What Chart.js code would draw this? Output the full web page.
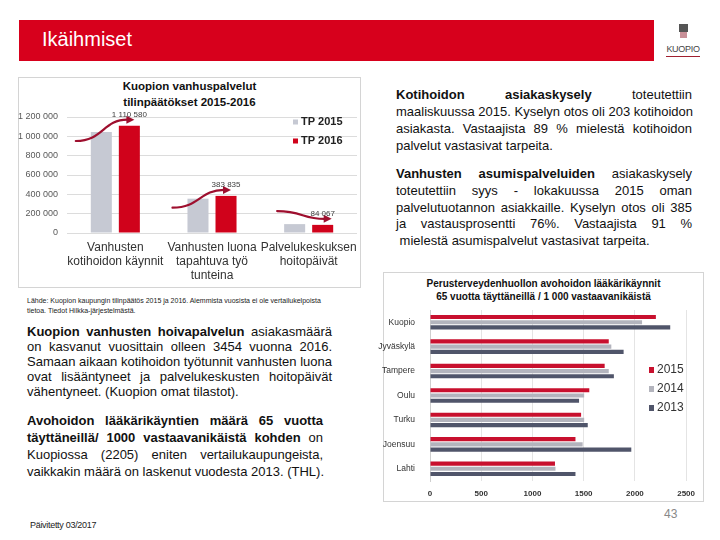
<!DOCTYPE html>
<html><head><meta charset="utf-8">
<script src="https://cdn.jsdelivr.net/npm/chart.js@4.4.1/dist/chart.umd.min.js"></script>
<style>
body{margin:0;width:720px;height:540px;position:relative;background:#fff;font-family:"Liberation Sans",Arial,sans-serif;overflow:hidden;color:#111}
.a{position:absolute}
#hdr{left:19px;top:20px;width:635px;height:41px;background:#d7001c}
#hdr span{position:absolute;left:23px;top:8px;color:#fff;font-size:20px}
.box{border:1px solid #d4d4d4;box-sizing:border-box}
.j{text-align:justify;text-align-last:justify;white-space:nowrap}
.l{text-align:left;white-space:nowrap}
.txt{font-size:13px}
</style></head>
<body>
<div id="hdr" class="a"><span>Ikäihmiset</span></div>
<!-- logo -->
<div class="a" style="left:679px;top:24px;width:9px;height:8px;background:#555"></div>
<div class="a" style="left:680px;top:32px;width:7px;height:6px;background:#c89098"></div>
<div class="a" style="left:663px;top:44px;width:40px;text-align:center;font-size:9px;color:#444;letter-spacing:-0.3px">KUOPIO</div>
<div class="a" style="left:666px;top:56px;width:34px;height:1px;background:#a02030"></div>

<div class="a box" style="left:18px;top:77px;width:343px;height:211px"></div>
<div class="a" style="left:18px;top:78px;width:343px;text-align:center;font-size:11.5px;font-weight:bold;line-height:16px;color:#111">Kuopion vanhuspalvelut<br>tilinpäätökset 2015-2016</div>
<canvas id="c1" class="a" style="left:0;top:77px"></canvas>

<div class="a" style="left:27px;top:296px;font-size:7px;line-height:10px;color:#222">Lähde: Kuopion kaupungin tilinpäätös 2015 ja 2016. Aiemmista vuosista ei ole vertailukelpoista<br>tietoa. Tiedot Hilkka-järjestelmästä.</div>

<div class="a txt" style="left:27px;top:324px;width:305px;line-height:15px">
<div class="j"><b>Kuopion vanhusten hoivapalvelun</b> asiakasmäärä</div>
<div class="j">on kasvanut vuosittain olleen 3454 vuonna 2016.</div>
<div class="j">Samaan aikaan kotihoidon työtunnit vanhusten luona</div>
<div class="j">ovat lisääntyneet ja palvelukeskusten hoitopäivät</div>
<div class="l">vähentyneet. (Kuopion omat tilastot).</div>
</div>
<div class="a txt" style="left:27px;top:412px;width:296px;line-height:17px">
<div class="j"><b>Avohoidon lääkärikäyntien määrä 65 vuotta</b></div>
<div class="j"><b>täyttäneillä/ 1000 vastaavanikäistä kohden</b> on</div>
<div class="j">Kuopiossa (2205) eniten vertailukaupungeista,</div>
<div class="l">vaikkakin määrä on laskenut vuodesta 2013. (THL).</div>
</div>

<div class="a txt" style="left:396px;top:86px;width:296px;line-height:17px">
<div class="j"><b>Kotihoidon asiakaskysely</b> toteutettiin</div>
<div class="j">maaliskuussa 2015. Kyselyn otos oli 203 kotihoidon</div>
<div class="j">asiakasta. Vastaajista 89 % mielestä kotihoidon</div>
<div class="l">palvelut vastasivat tarpeita.</div>
</div>
<div class="a txt" style="left:396px;top:166px;width:296px;line-height:16.8px">
<div class="j"><b>Vanhusten asumispalveluiden</b> asiakaskysely</div>
<div class="j">toteutettiin syys - lokakuussa 2015 oman</div>
<div class="j">palvelutuotannon asiakkaille. Kyselyn otos oli 385</div>
<div class="j">ja vastausprosentti 76%. Vastaajista 91 %</div>
<div class="l">&nbsp;mielestä asumispalvelut vastasivat tarpeita.</div>
</div>

<div class="a box" style="left:383px;top:272px;width:321px;height:230px"></div>
<div class="a" style="left:383px;top:277px;width:321px;text-align:center;font-size:10px;font-weight:bold;line-height:13px;color:#111">Perusterveydenhuollon avohoidon lääkärikäynnit<br>65 vuotta täyttäneillä / 1 000 vastaavanikäistä</div>
<canvas id="c2" class="a" style="left:376px;top:272px"></canvas>

<div class="a" style="left:30px;top:520px;font-size:9px;color:#222;letter-spacing:-0.3px">Päivitetty 03/2017</div>
<div class="a" style="left:664px;top:507px;font-size:12px;color:#888">43</div>

<script>
// ---- Data: left chart ----
const cats1 = [['Vanhusten','kotihoidon käynnit'],['Vanhusten luona','tapahtuva työ','tunteina'],['Palvelukeskuksen','hoitopäivät']];
const tp2015 = [1045000, 355000, 92000];
const tp2016 = [1110580, 383835, 84067];
const series1 = ['TP 2015','TP 2016'];
// ---- Data: right chart ----
const cities = ['Kuopio','Jyväskylä','Tampere','Oulu','Turku','Joensuu','Lahti'];
const v2015 = [2205, 1745, 1705, 1555, 1475, 1420, 1220];
const v2014 = [2070, 1770, 1745, 1505, 1505, 1490, 1225];
const v2013 = [2345, 1890, 1795, 1455, 1540, 1965, 1420];
const series2 = ['2015','2014','2013'];
const xTicks2 = [0, 500, 1000, 1500, 2000, 2500];

const fmt = v => String(v).replace(/\B(?=(\d{3})+(?!\d))/g, ' ');
const FONT = '"Liberation Sans", Arial, sans-serif';
Chart.defaults.font.family = FONT;
Chart.defaults.color = '#404040';

function setup(id, w, h){
  const c = document.getElementById(id);
  c.style.width = w + 'px'; c.style.height = h + 'px';
  c.width = w; c.height = h;
  return c;
}

// Left chart
const grey1 = '#c6c9d3', red1 = '#d0021b', arrowCol = '#9e0f2e';
const leftPlug = {
  id: 'leftDeco',
  afterDatasetsDraw(chart){
    const ctx = chart.ctx;
    const m0 = chart.getDatasetMeta(0), m1 = chart.getDatasetMeta(1);
    ctx.save();
    for (let i = 0; i < m0.data.length; i++){
      const g = m0.data[i], r = m1.data[i];
      const up = r.y < g.y;
      const sx = g.x - g.width/2 - (up ? 15 : 7), sy = up ? g.y + 9 : g.y - 13;
      const ex = r.x + (up ? 1 : 5), ey = r.y - 6;
      const mx = (sx + ex)/2;
      ctx.strokeStyle = arrowCol; ctx.lineWidth = 2.2; ctx.lineCap = 'round';
      ctx.beginPath(); ctx.moveTo(sx, sy);
      ctx.bezierCurveTo(mx, sy, mx, ey, ex - 3, ey);
      ctx.stroke();
      ctx.fillStyle = arrowCol;
      ctx.beginPath(); ctx.moveTo(ex + 4, ey); ctx.lineTo(ex - 4, ey - 4); ctx.lineTo(ex - 4, ey + 4); ctx.closePath(); ctx.fill();
      // value label
      ctx.fillStyle = '#404040'; ctx.font = '8px ' + FONT; ctx.textAlign = 'center'; ctx.textBaseline = 'middle';
      ctx.fillText(fmt(chart.data.datasets[1].data[i]), r.x, r.y - 11);
    }
    // legend
    const a = chart.chartArea;
    chart.data.datasets.forEach((ds, k) => {
      const y = a.top + 5 + k*19;
      ctx.fillStyle = ds.backgroundColor;
      ctx.fillRect(a.right - 64, y - 2.5, 5, 5);
      ctx.fillStyle = '#222'; ctx.font = 'bold 11px ' + FONT; ctx.textAlign = 'left'; ctx.textBaseline = 'middle';
      ctx.fillText(ds.label, a.right - 56, y);
    });
    ctx.restore();
  }
};
new Chart(setup('c1', 362, 216), {
  type: 'bar',
  data: {
    labels: cats1,
    datasets: [
      {label: series1[0], data: tp2015, backgroundColor: grey1},
      {label: series1[1], data: tp2016, backgroundColor: red1}
    ]
  },
  options: {
    responsive: false, animation: false, devicePixelRatio: 1,
    layout: {padding: {left: 0, top: 40, right: 5, bottom: 8}},
    categoryPercentage: 0.58, barPercentage: 0.75,
    plugins: {legend: {display: false}, tooltip: {enabled: false}},
    scales: {
      x: {
        grid: {display: false}, border: {display: false},
        ticks: {font: {size: 12, lineHeight: 1.17}, color: '#333', padding: 0, maxRotation: 0, autoSkip: false},
        afterFit(s){ s.height = 52; }
      },
      y: {
        min: 0, max: 1200000,
        grid: {color: '#dcdcdc', drawTicks: false}, border: {display: false},
        ticks: {stepSize: 200000, font: {size: 9}, color: '#595959', padding: 9, callback: v => fmt(v)},
        afterFit(s){ s.width = 67; }
      }
    }
  },
  plugins: [leftPlug]
});

// Right chart
const rightPlug = {
  id: 'rightLegend',
  afterDatasetsDraw(chart){
    const ctx = chart.ctx, a = chart.chartArea;
    ctx.save();
    chart.data.datasets.forEach((ds, k) => {
      const y = a.top + 60 + k*19;
      ctx.fillStyle = ds.backgroundColor;
      ctx.fillRect(a.left + 219, y - 3, 5, 6);
      ctx.fillStyle = '#333'; ctx.font = '12px ' + FONT; ctx.textAlign = 'left'; ctx.textBaseline = 'middle';
      ctx.fillText(ds.label, a.left + 227, y);
    });
    ctx.restore();
  }
};
new Chart(setup('c2', 327, 229), {
  type: 'bar',
  data: {
    labels: cities,
    datasets: [
      {label: series2[0], data: v2015, backgroundColor: '#c8102e'},
      {label: series2[1], data: v2014, backgroundColor: '#b3b4bd'},
      {label: series2[2], data: v2013, backgroundColor: '#50556a'}
    ]
  },
  options: {
    indexAxis: 'y',
    responsive: false, animation: false, devicePixelRatio: 1,
    layout: {padding: {left: 0, top: 38, right: 16, bottom: 3}},
    categoryPercentage: 0.64, barPercentage: 0.8,
    plugins: {legend: {display: false}, tooltip: {enabled: false}},
    scales: {
      x: {
        min: 0, max: 2500,
        afterBuildTicks(s){ s.ticks = xTicks2.map(v => ({value: v})); },
        grid: {color: '#e4e4e4', drawTicks: false}, border: {display: false},
        ticks: {font: {size: 8, weight: 'bold'}, color: '#333', padding: 8, callback: v => String(v)},
        afterFit(s){ s.height = 17; }
      },
      y: {
        grid: {display: false}, border: {display: true, color: '#cfcfcf'},
        ticks: {font: {size: 8.5}, color: '#333', padding: 7},
        afterFit(s){ s.width = 54; }
      }
    }
  },
  plugins: [rightPlug]
});
</script>
</body></html>
